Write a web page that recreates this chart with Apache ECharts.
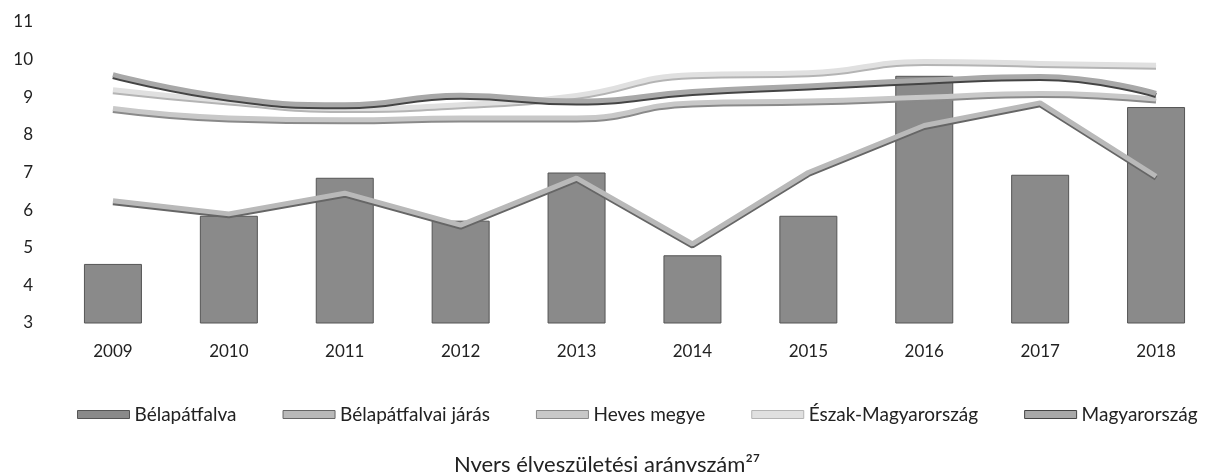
<!DOCTYPE html>
<html>
<head>
<meta charset="utf-8">
<title>Nyers élveszületési arányszám</title>
<style>
  html, body { margin: 0; padding: 0; background: #ffffff; }
  #chart { width: 1214px; height: 472px; }
</style>
</head>
<body>
<div id="chart"></div>
<script src="https://cdn.jsdelivr.net/npm/echarts@6/dist/echarts.min.js"></script>
<script>
// adatok
var years = ['2009', '2010', '2011', '2012', '2013', '2014', '2015', '2016', '2017', '2018'];
var belapatfalva = [4.57, 5.85, 6.86, 5.72, 7.0, 4.8, 5.85, 9.57, 6.94, 8.74];
var jaras = [6.25, 5.9, 6.45, 5.6, 6.85, 5.1, 7.0, 8.25, 8.85, 6.9];
var heves = [8.7, 8.45, 8.4, 8.45, 8.45, 8.85, 8.9, 9.0, 9.1, 8.95];
var eszakMo = [9.2, 8.9, 8.7, 8.8, 9.05, 9.6, 9.65, 9.95, 9.9, 9.85];
var magyarorszag = [9.6, 9.0, 8.8, 9.05, 8.9, 9.15, 9.3, 9.45, 9.55, 9.1];
var yTicks = { min: 3, max: 11, interval: 1 };

var font = 'Lato, "Open Sans", sans-serif';

// vonal színek: [kitöltés, körvonal]
var colors = {
    bar: ['#8a8a8a', '#555'],
    jaras: ['#b9b9b9', '#666'],
    heves: ['#c8c8c8', '#8a8a8a'],
    eszak: ['#e0e0e0', '#b4b4b4'],
    mo: ['#a8a8a8', '#444']
};

function lineSeries(name, data, c, smooth) {
    return {
        name: name,
        type: 'line',
        data: data,
        smooth: smooth,
        symbol: 'none',
        lineStyle: {
            width: 5,
            color: c[0],
            shadowColor: c[1],
            shadowBlur: 0,
            shadowOffsetY: 2
        },
        itemStyle: { color: c[0] }
    };
}

function legendItem(name, c) {
    return { name: name, icon: 'rect', itemStyle: { color: c[0], borderColor: c[1], borderWidth: 1 } };
}

var chart = echarts.init(document.getElementById('chart'));
chart.setOption({
    animation: false,
    backgroundColor: '#ffffff',
    grid: {
        left: 55,
        width: 1186,
        top: 22,
        bottom: 149
    },
    title: {
        text: 'Nyers élveszületési arányszám²⁷',
        left: 'center',
        top: 449,
        textStyle: { fontFamily: font, fontSize: 22, fontWeight: 'normal', color: '#222' }
    },
    legend: {
        top: 400,
        left: 72,
        itemWidth: 52,
        itemHeight: 8,
        itemGap: 46,
        textStyle: { fontFamily: font, fontSize: 19, color: '#222' },
        data: [
            legendItem('Bélapátfalva', colors.bar),
            legendItem('Bélapátfalvai járás', colors.jaras),
            legendItem('Heves megye', colors.heves),
            legendItem('Észak-Magyarország', colors.eszak),
            legendItem('Magyarország', colors.mo)
        ]
    },
    xAxis: {
        type: 'category',
        data: years,
        axisLine: { show: false },
        axisTick: { show: false },
        axisLabel: { fontFamily: font, fontSize: 17, color: '#222', margin: 20 }
    },
    yAxis: {
        type: 'value',
        min: yTicks.min,
        max: yTicks.max,
        interval: yTicks.interval,
        splitLine: { show: false },
        axisLine: { show: false },
        axisTick: { show: false },
        axisLabel: { fontFamily: font, fontSize: 17, color: '#222', margin: 22 }
    },
    series: [
        {
            name: 'Bélapátfalva',
            type: 'bar',
            data: belapatfalva,
            barWidth: 58,
            itemStyle: { color: colors.bar[0], borderColor: colors.bar[1], borderWidth: 1 }
        },
        lineSeries('Bélapátfalvai járás', jaras, colors.jaras, false),
        lineSeries('Heves megye', heves, colors.heves, true),
        lineSeries('Észak-Magyarország', eszakMo, colors.eszak, true),
        lineSeries('Magyarország', magyarorszag, colors.mo, true)
    ]
});
</script>
</body>
</html>
